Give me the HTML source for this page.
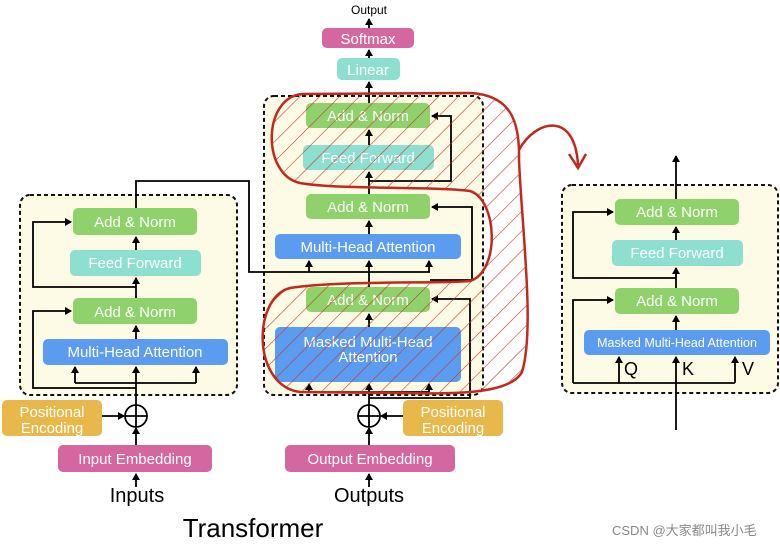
<!DOCTYPE html>
<html><head><meta charset="utf-8"><style>
html,body{margin:0;padding:0;background:#fff;}
svg{display:block;}
text{font-family:"Liberation Sans","Noto Sans CJK SC",sans-serif;}
.w{fill:#fff;font-size:15px;text-anchor:middle;}
</style></head><body>
<svg width="780" height="544" viewBox="0 0 780 544" xmlns="http://www.w3.org/2000/svg">
<defs>
<marker id="a" markerWidth="8" markerHeight="8" refX="6" refY="4" orient="auto" markerUnits="userSpaceOnUse"><path d="M0,0 L7,4 L0,8 Z" fill="#000"/></marker>
<pattern id="h" width="14" height="14" patternUnits="userSpaceOnUse" patternTransform="rotate(45)"><line x1="0" y1="0" x2="0" y2="14" stroke="#c0392b" stroke-width="1.2"/></pattern>
</defs>
<rect width="780" height="544" fill="#fff"/>
<rect x="20" y="195" width="217" height="200" rx="10" fill="#fdfbe6" stroke="#111" stroke-width="2" stroke-dasharray="4,3"/>
<rect x="264" y="96" width="219" height="299" rx="10" fill="#fdfbe6" stroke="#111" stroke-width="2" stroke-dasharray="4,3"/>
<rect x="562" y="185" width="216" height="208" rx="10" fill="#fdfbe6" stroke="#111" stroke-width="2" stroke-dasharray="4,3"/>

<g stroke="#000" stroke-width="1.8" fill="none">
<line x1="136" y1="487" x2="136" y2="474" marker-end="url(#a)"/>
<line x1="136" y1="445" x2="136" y2="428" marker-end="url(#a)"/>
<line x1="102" y1="416" x2="124" y2="416" marker-end="url(#a)"/>
<polyline points="136,405 136,367" marker-end="url(#a)"/>
<polyline points="75,383 196,383"/>
<line x1="75" y1="383" x2="75" y2="367" marker-end="url(#a)"/>
<line x1="196" y1="383" x2="196" y2="367" marker-end="url(#a)"/>
<polyline points="136,388 33,388 33,311 71,311" marker-end="url(#a)"/>
<line x1="136" y1="339" x2="136" y2="326" marker-end="url(#a)"/>
<line x1="136" y1="298" x2="136" y2="278" marker-end="url(#a)"/>
<polyline points="136,287 33,287 33,222 71,222" marker-end="url(#a)"/>
<line x1="136" y1="250" x2="136" y2="237" marker-end="url(#a)"/>
<polyline points="136,208 136,181 249,181 249,272 430,272"/>
<line x1="369" y1="487" x2="369" y2="474" marker-end="url(#a)"/>
<line x1="369" y1="445" x2="369" y2="428" marker-end="url(#a)"/>
<line x1="403" y1="416" x2="381" y2="416" marker-end="url(#a)"/>
<line x1="369" y1="405" x2="369" y2="384" marker-end="url(#a)"/>
<polyline points="309,392 429,392"/>
<line x1="309" y1="392" x2="309" y2="384" marker-end="url(#a)"/>
<line x1="429" y1="392" x2="429" y2="384" marker-end="url(#a)"/>
<polyline points="369,398 470,398 470,299 432,299" marker-end="url(#a)"/>
<line x1="369" y1="327" x2="369" y2="314" marker-end="url(#a)"/>
<polyline points="369,287 369,272"/>
<line x1="309" y1="272" x2="309" y2="261" marker-end="url(#a)"/>
<line x1="369" y1="272" x2="369" y2="261" marker-end="url(#a)"/>
<line x1="429" y1="272" x2="429" y2="261" marker-end="url(#a)"/>
<polyline points="430,280 472,280 472,207 432,207" marker-end="url(#a)"/>
<line x1="369" y1="234" x2="369" y2="221" marker-end="url(#a)"/>
<line x1="369" y1="194" x2="369" y2="172" marker-end="url(#a)"/>
<polyline points="369,181 451,181 451,116 432,116" marker-end="url(#a)"/>
<line x1="369" y1="145" x2="369" y2="130" marker-end="url(#a)"/>
<line x1="369" y1="103" x2="369" y2="82" marker-end="url(#a)"/>
<line x1="369" y1="58" x2="369" y2="50" marker-end="url(#a)"/>
<line x1="369" y1="28" x2="369" y2="19" marker-end="url(#a)"/>
<line x1="676" y1="430" x2="676" y2="357" marker-end="url(#a)"/>
<polyline points="573,383 735,383"/>
<line x1="619" y1="383" x2="619" y2="357" marker-end="url(#a)"/>
<line x1="735" y1="383" x2="735" y2="357" marker-end="url(#a)"/>
<polyline points="573,383 573,300 613,300" marker-end="url(#a)"/>
<line x1="676" y1="330" x2="676" y2="316" marker-end="url(#a)"/>
<line x1="676" y1="288" x2="676" y2="268" marker-end="url(#a)"/>
<polyline points="676,278 573,278 573,212 613,212" marker-end="url(#a)"/>
<line x1="676" y1="240" x2="676" y2="227" marker-end="url(#a)"/>
<line x1="676" y1="199" x2="676" y2="156" marker-end="url(#a)"/>
</g>
<circle cx="136" cy="416" r="11" fill="#fff" stroke="#000" stroke-width="1.8"/>
<path d="M125,416H147M136,405V427" stroke="#000" stroke-width="1.8"/>
<circle cx="369" cy="416" r="11" fill="#fff" stroke="#000" stroke-width="1.8"/>
<path d="M358,416H380M369,405V427" stroke="#000" stroke-width="1.8"/>

<rect x="73" y="208" width="124" height="27" rx="5" fill="#8fd16a"/><text class="w" x="135" y="227">Add &amp; Norm</text>
<rect x="70" y="250" width="131" height="26" rx="5" fill="#8de0d0"/><text class="w" x="135" y="268">Feed Forward</text>
<rect x="73" y="298" width="124" height="26" rx="5" fill="#8fd16a"/><text class="w" x="135" y="317">Add &amp; Norm</text>
<rect x="43" y="339" width="185" height="26" rx="5" fill="#5b9cf0"/><text class="w" x="135" y="357">Multi-Head Attention</text>
<rect x="2" y="400" width="100" height="36" rx="5" fill="#e8b84a"/><text class="w" x="52" y="417">Positional</text><text class="w" x="52" y="433">Encoding</text>
<rect x="58" y="445" width="154" height="27" rx="5" fill="#d4679f"/><text class="w" x="135" y="464">Input Embedding</text>
<text x="137" y="502" font-size="20" text-anchor="middle">Inputs</text>
<text x="369" y="14" font-size="12" text-anchor="middle">Output</text>
<rect x="322" y="28" width="92" height="20" rx="5" fill="#d4679f"/><text class="w" x="368" y="44">Softmax</text>
<rect x="337" y="58" width="63" height="22" rx="5" fill="#8de0d0"/><text class="w" x="368" y="75">Linear</text>
<rect x="306" y="103" width="124" height="25" rx="5" fill="#8fd16a"/><text class="w" x="368" y="121">Add &amp; Norm</text>
<rect x="303" y="145" width="131" height="25" rx="5" fill="#8de0d0"/><text class="w" x="368" y="163">Feed Forward</text>
<rect x="306" y="194" width="124" height="25" rx="5" fill="#8fd16a"/><text class="w" x="368" y="212">Add &amp; Norm</text>
<rect x="275" y="234" width="186" height="25" rx="5" fill="#5b9cf0"/><text class="w" x="368" y="252">Multi-Head Attention</text>
<rect x="306" y="287" width="124" height="25" rx="5" fill="#8fd16a"/><text class="w" x="368" y="305">Add &amp; Norm</text>
<rect x="275" y="327" width="186" height="55" rx="5" fill="#5b9cf0"/><text class="w" x="368" y="347">Masked Multi-Head</text><text class="w" x="368" y="362">Attention</text>
<rect x="403" y="400" width="100" height="36" rx="5" fill="#e8b84a"/><text class="w" x="453" y="417">Positional</text><text class="w" x="453" y="433">Encoding</text>
<rect x="285" y="445" width="170" height="27" rx="5" fill="#d4679f"/><text class="w" x="370" y="464">Output Embedding</text>
<text x="369" y="502" font-size="20" text-anchor="middle">Outputs</text>
<text x="253" y="537" font-size="26" text-anchor="middle">Transformer</text>
<rect x="615" y="199" width="124" height="26" rx="5" fill="#8fd16a"/><text class="w" x="677" y="217">Add &amp; Norm</text>
<rect x="612" y="240" width="131" height="26" rx="5" fill="#8de0d0"/><text class="w" x="677" y="258">Feed Forward</text>
<rect x="615" y="288" width="124" height="26" rx="5" fill="#8fd16a"/><text class="w" x="677" y="306">Add &amp; Norm</text>
<rect x="584" y="330" width="186" height="25" rx="5" fill="#5b9cf0"/><text class="w" x="677" y="347" font-size="12.5" style="font-size:12.5px">Masked Multi-Head Attention</text>
<text x="624" y="375" font-size="18">Q</text><text x="682" y="375" font-size="18">K</text><text x="742" y="375" font-size="18">V</text>

<path d="M300,183 C262,175 262,98 302,94 L470,93 C510,95 520,120 519,160 C522,230 535,330 522,372 C510,395 450,394 400,393 L300,392 C252,386 252,298 290,288 C340,280 440,284 470,281 C500,272 498,200 470,191 C430,186 340,190 300,183 Z" fill="url(#h)" stroke="#c0291e" stroke-width="2.5"/>
<path d="M519,150 C535,120 575,110 578,165" fill="none" stroke="#c0291e" stroke-width="2.5"/>
<path d="M569,154 L578,168 L586,154" fill="none" stroke="#c0291e" stroke-width="2.5"/>

<text x="612" y="535" font-size="13" fill="#888">CSDN @大家都叫我小毛</text>
</svg>
</body></html>
